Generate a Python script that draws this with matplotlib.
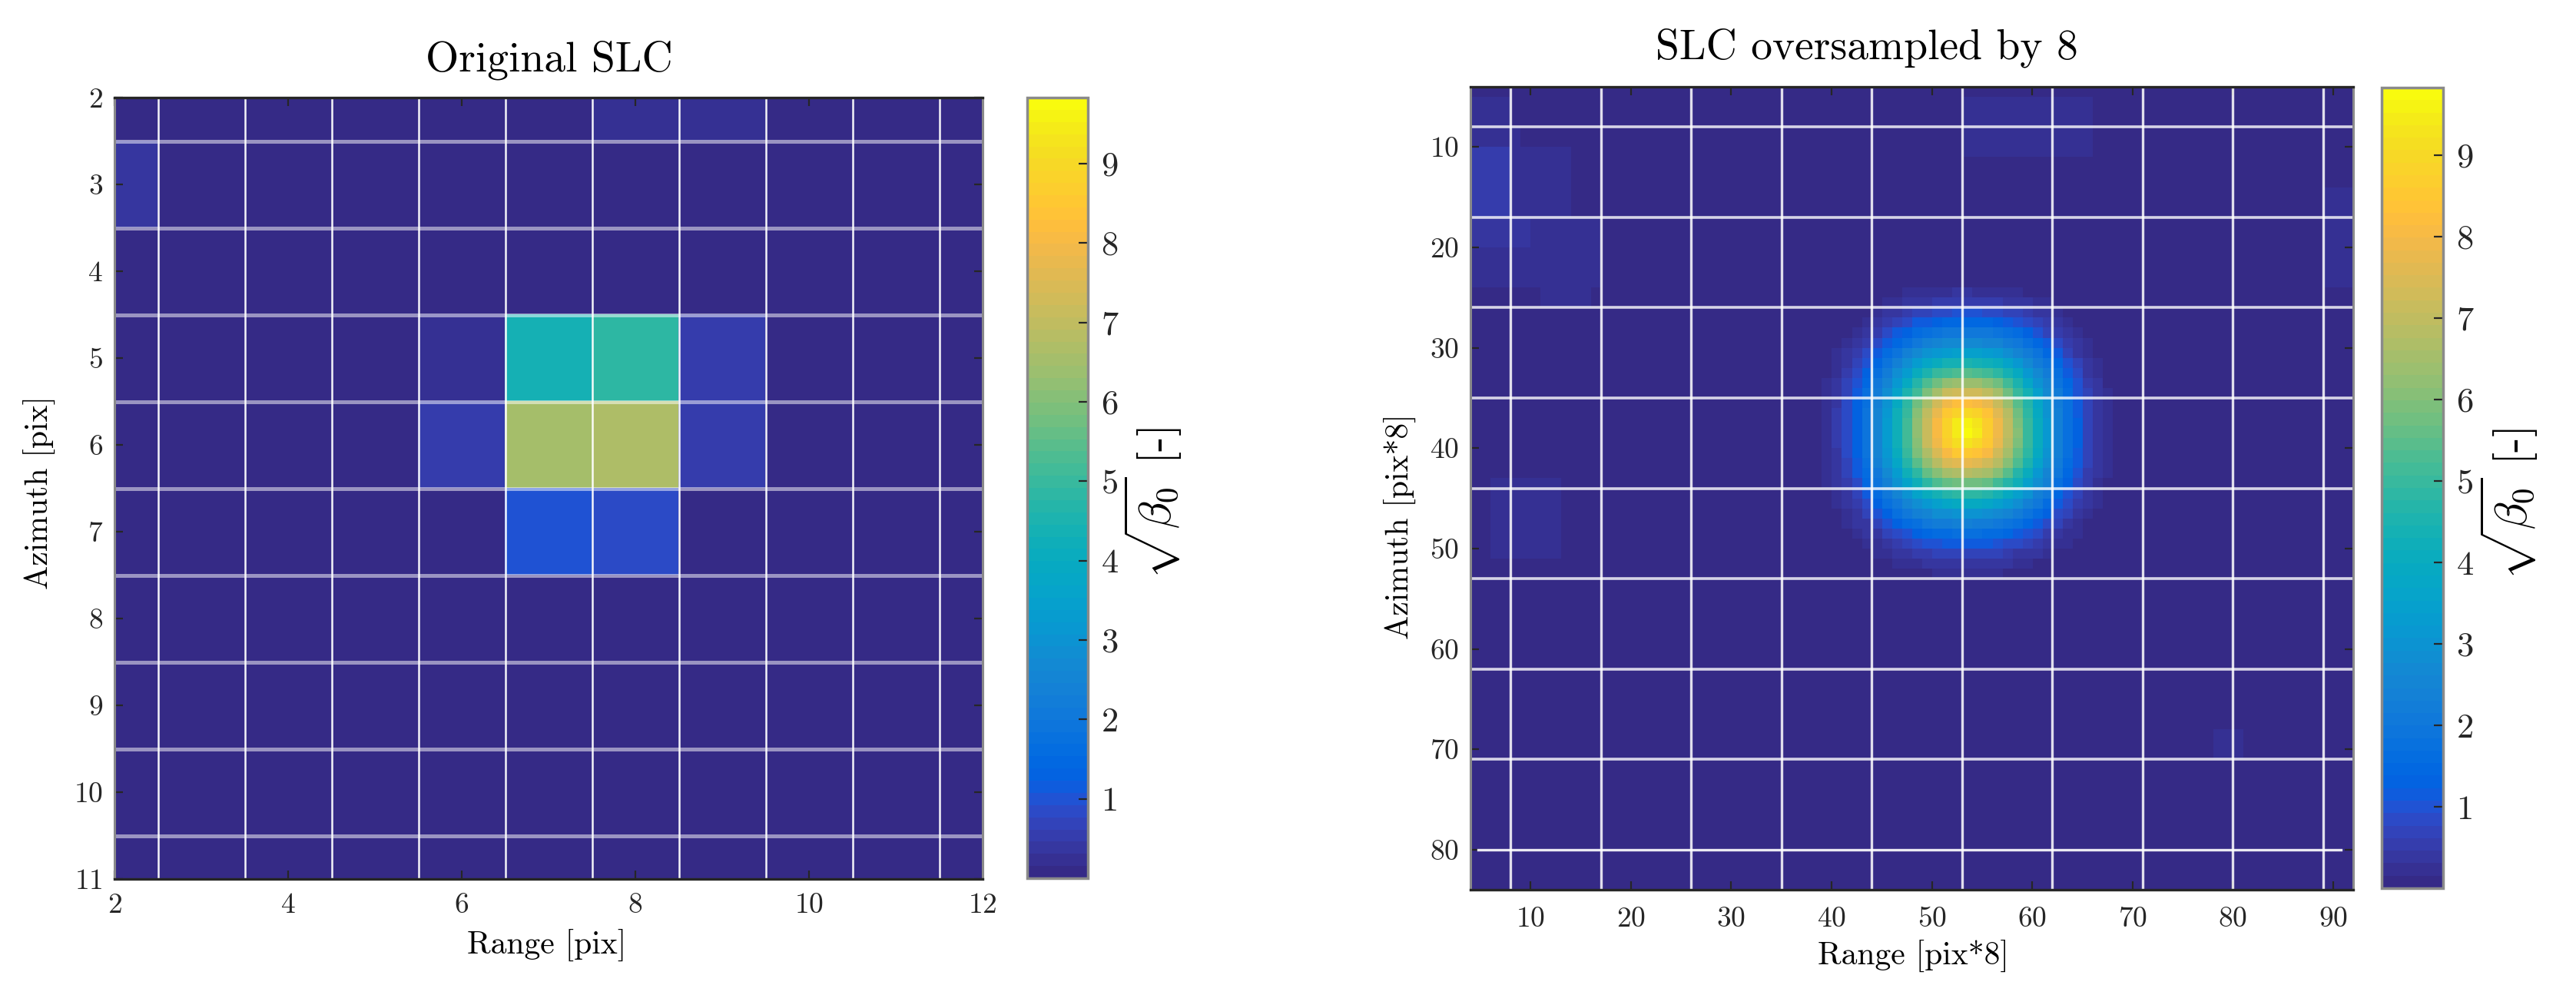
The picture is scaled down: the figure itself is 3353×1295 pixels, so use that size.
import numpy as np
import matplotlib
matplotlib.use("Agg")
import matplotlib.pyplot as plt
from matplotlib.colors import ListedColormap, Normalize

# ---------------------------------------------------------------- data
# original SLC amplitude, rows = azimuth 2..11, columns = range 2..12
orig_range = np.arange(2, 13)
orig_azimuth = np.arange(2, 12)
orig_amp = np.array([
    [0.15, 0.05, 0.05, 0.05, 0.05, 0.05, 0.25, 0.25, 0.05, 0.05, 0.05],
    [0.40, 0.05, 0.05, 0.05, 0.05, 0.05, 0.05, 0.05, 0.05, 0.05, 0.05],
    [0.05, 0.05, 0.05, 0.05, 0.05, 0.05, 0.05, 0.05, 0.05, 0.05, 0.05],
    [0.05, 0.05, 0.05, 0.05, 0.20, 4.35, 4.90, 0.55, 0.05, 0.05, 0.05],
    [0.05, 0.05, 0.05, 0.05, 0.55, 6.60, 6.75, 0.55, 0.05, 0.05, 0.05],
    [0.05, 0.05, 0.05, 0.05, 0.05, 1.05, 0.80, 0.05, 0.05, 0.05, 0.05],
    [0.05, 0.05, 0.05, 0.05, 0.05, 0.05, 0.05, 0.05, 0.05, 0.05, 0.05],
    [0.05, 0.05, 0.05, 0.05, 0.05, 0.05, 0.05, 0.05, 0.05, 0.05, 0.05],
    [0.05, 0.05, 0.05, 0.05, 0.05, 0.05, 0.05, 0.05, 0.05, 0.05, 0.05],
    [0.05, 0.05, 0.05, 0.05, 0.05, 0.05, 0.05, 0.05, 0.05, 0.05, 0.05],
])
orig_grid_x = [2.5, 3.5, 4.5, 5.5, 6.5, 7.5, 8.5, 9.5, 10.5, 11.5]
orig_grid_y = [2.5, 3.5, 4.5, 5.5, 6.5, 7.5, 8.5, 9.5, 10.5]
orig_xticks = [2, 4, 6, 8, 10, 12]
orig_yticks = [2, 3, 4, 5, 6, 7, 8, 9, 10, 11]

# oversampled SLC (x8): pixel grid range 4..92, azimuth 4..84
os_range_edges = np.arange(4, 93)
os_azimuth_edges = np.arange(4, 85)
os_background = 0.05
# main lobe: centre and amplitude vs. distance (pixels)
peak_range = 53.4
peak_azimuth = 38.2
lobe_dist = [0, 1, 2, 3, 4, 5, 6, 7, 8, 9, 10, 11, 12, 13, 14, 15]
lobe_amp = [9.8, 9.5, 8.8, 8.0, 7.1, 6.1, 5.1, 4.2, 3.2, 2.5, 1.9, 1.3, 0.8, 0.45, 0.25, 0.08]
lobe_shape_exp = 2.3
# faint side-lobe patches: range from/to, azimuth from/to, amplitude
patch_r0 = [4, 4, 4, 8, 4, 10, 4, 11, 6, 53, 89, 78]
patch_r1 = [8, 9, 8, 14, 10, 17, 17, 16, 13, 66, 92, 81]
patch_a0 = [5, 8, 10.5, 10.5, 17, 17, 20, 23.5, 43, 5, 14, 68]
patch_a1 = [8, 10.5, 17, 17, 20, 20, 23.5, 25.5, 51, 11, 24, 71]
patch_v = [0.2, 0.28, 0.5, 0.28, 0.35, 0.25, 0.22, 0.18, 0.22, 0.16, 0.28, 0.18]
os_grid_x = [8, 17, 26, 35, 44, 53, 62, 71, 80, 89]
os_grid_y = [8, 17, 26, 35, 44, 53, 62, 71, 80]
os_xticks = [10, 20, 30, 40, 50, 60, 70, 80, 90]
os_yticks = [10, 20, 30, 40, 50, 60, 70, 80]

cbar_ticks = [1, 2, 3, 4, 5, 6, 7, 8, 9]
clim = (0.0, 9.83)

# ------------------------------------------------------------- colormap
PARULA = [
    [0.2081, 0.1663, 0.5292], [0.2116, 0.1898, 0.5777], [0.2123, 0.2138, 0.6270],
    [0.2081, 0.2386, 0.6771], [0.1959, 0.2645, 0.7279], [0.1707, 0.2919, 0.7792],
    [0.1253, 0.3242, 0.8303], [0.0591, 0.3598, 0.8683], [0.0117, 0.3875, 0.8820],
    [0.0060, 0.4086, 0.8828], [0.0165, 0.4266, 0.8786], [0.0329, 0.4430, 0.8720],
    [0.0498, 0.4586, 0.8641], [0.0629, 0.4737, 0.8554], [0.0723, 0.4887, 0.8467],
    [0.0779, 0.5040, 0.8384], [0.0793, 0.5200, 0.8312], [0.0749, 0.5375, 0.8263],
    [0.0641, 0.5570, 0.8240], [0.0488, 0.5772, 0.8228], [0.0343, 0.5966, 0.8199],
    [0.0265, 0.6137, 0.8135], [0.0239, 0.6287, 0.8038], [0.0231, 0.6418, 0.7913],
    [0.0228, 0.6535, 0.7768], [0.0267, 0.6642, 0.7607], [0.0384, 0.6743, 0.7436],
    [0.0590, 0.6838, 0.7254], [0.0843, 0.6928, 0.7062], [0.1133, 0.7015, 0.6859],
    [0.1453, 0.7098, 0.6646], [0.1801, 0.7177, 0.6424], [0.2178, 0.7250, 0.6193],
    [0.2586, 0.7317, 0.5954], [0.3022, 0.7376, 0.5712], [0.3482, 0.7424, 0.5473],
    [0.3953, 0.7459, 0.5244], [0.4420, 0.7481, 0.5033], [0.4871, 0.7491, 0.4840],
    [0.5300, 0.7491, 0.4661], [0.5709, 0.7485, 0.4494], [0.6099, 0.7473, 0.4337],
    [0.6473, 0.7456, 0.4188], [0.6834, 0.7435, 0.4044], [0.7184, 0.7411, 0.3905],
    [0.7525, 0.7384, 0.3768], [0.7858, 0.7356, 0.3633], [0.8185, 0.7327, 0.3498],
    [0.8507, 0.7299, 0.3360], [0.8824, 0.7274, 0.3217], [0.9139, 0.7258, 0.3063],
    [0.9450, 0.7261, 0.2886], [0.9739, 0.7314, 0.2666], [0.9938, 0.7455, 0.2403],
    [0.9990, 0.7653, 0.2164], [0.9955, 0.7861, 0.1967], [0.9880, 0.8066, 0.1794],
    [0.9789, 0.8271, 0.1633], [0.9697, 0.8481, 0.1475], [0.9626, 0.8705, 0.1309],
    [0.9589, 0.8949, 0.1132], [0.9598, 0.9218, 0.0948], [0.9661, 0.9514, 0.0755],
    [0.9763, 0.9831, 0.0538]]
cmap = ListedColormap(PARULA)
norm = Normalize(*clim)

# --------------------------------------------------- oversampled image
rc = 0.5 * (os_range_edges[:-1] + os_range_edges[1:])
ac = 0.5 * (os_azimuth_edges[:-1] + os_azimuth_edges[1:])
RR, AA = np.meshgrid(rc, ac)
dist = (np.abs(RR - peak_range) ** lobe_shape_exp
        + np.abs(AA - peak_azimuth) ** lobe_shape_exp) ** (1.0 / lobe_shape_exp)
os_amp = np.interp(dist, lobe_dist, lobe_amp, right=0.0)
os_amp = np.maximum(os_amp, os_background)
for r0, r1, a0, a1, v in zip(patch_r0, patch_r1, patch_a0, patch_a1, patch_v):
    m = (RR >= r0) & (RR <= r1) & (AA >= a0) & (AA <= a1)
    os_amp[m] = np.maximum(os_amp[m], v)

# ------------------------------------------------------------- styling
plt.rcParams["font.family"] = "cmr10"
plt.rcParams["mathtext.fontset"] = "cm"
plt.rcParams["axes.unicode_minus"] = False
plt.rcParams["axes.formatter.use_mathtext"] = True

W, H = 3353, 1295
fig = plt.figure(figsize=(W / 100, H / 100), dpi=100)


def frac(x0, y0, x1, y1):
    return [x0 / W, 1 - y1 / H, (x1 - x0) / W, (y1 - y0) / H]


def style_axes(ax, xpad, ypad):
    ax.tick_params(direction="in", length=8, width=1.6, top=True, right=True,
                   labelsize=27, colors="#262626")
    ax.tick_params(axis="x", pad=xpad)
    ax.tick_params(axis="y", pad=ypad)
    for s in ("top", "bottom"):
        ax.spines[s].set_color("#262626")
        ax.spines[s].set_linewidth(2.4)
    for s in ("left", "right"):
        ax.spines[s].set_color("#8a8a8a")
        ax.spines[s].set_linewidth(2.2)


def style_cbar(cb):
    cb.set_ticks(cbar_ticks)
    cb.ax.tick_params(direction="in", length=9, width=1.6, labelsize=32,
                      pad=12, colors="#262626")
    cb.outline.set_edgecolor("#8a8a8a")
    cb.outline.set_linewidth(2.5)


# ----- left: original SLC
axL = fig.add_axes(frac(149, 127, 1279, 1144))
imL = axL.imshow(orig_amp, cmap=cmap, norm=norm, interpolation="nearest",
                 aspect="auto",
                 extent=[orig_range[0] - 0.5, orig_range[-1] + 0.5,
                         orig_azimuth[-1] + 0.5, orig_azimuth[0] - 0.5])
axL.set_xlim(2, 12)
axL.set_ylim(11, 2)
for y in orig_grid_y:
    axL.axhline(y, color="white", alpha=0.5, lw=3.6)
for x in orig_grid_x:
    axL.axvline(x, color="white", alpha=0.95, lw=1.8)
axL.set_xticks(orig_xticks)
axL.set_yticks(orig_yticks)
style_axes(axL, 13, 11)

caxL = fig.add_axes(frac(1337, 127, 1416, 1143))
style_cbar(fig.colorbar(imL, cax=caxL))

fig.text(715 / W, 1 - 92 / H, "Original SLC", ha="center", va="baseline", fontsize=40)
fig.text(712 / W, 1 - 1241 / H, "Range [pix]", ha="center", va="baseline", fontsize=30)
fig.text(51 / W, 1 - 641 / H, "Azimuth [pix]", ha="center", va="center",
         rotation=90, fontsize=30)
fig.text(1501 / W, 1 - 655 / H, r"$\sqrt{\beta_0}$ [-]", ha="center", va="center",
         rotation=90, fontsize=42)

# ----- right: oversampled SLC
axR = fig.add_axes(frac(1914, 113, 3063, 1158))
imR = axR.imshow(os_amp, cmap=cmap, norm=norm, interpolation="nearest",
                 aspect="auto",
                 extent=[os_range_edges[0], os_range_edges[-1],
                         os_azimuth_edges[-1], os_azimuth_edges[0]])
axR.set_xlim(os_range_edges[0], os_range_edges[-1])
axR.set_ylim(os_azimuth_edges[-1], os_azimuth_edges[0])
for y in os_grid_y:
    if y == os_grid_y[-1]:
        axR.plot([4.8, 90.8], [y, y], color="white", alpha=0.9, lw=2.4)
    else:
        axR.axhline(y, color="white", alpha=0.8, lw=2.6)
for x in os_grid_x:
    axR.axvline(x, color="white", alpha=0.85, lw=2.4)
axR.set_xticks(os_xticks)
axR.set_yticks(os_yticks)
style_axes(axR, 16, 11)

caxR = fig.add_axes(frac(3100, 114, 3180, 1156))
style_cbar(fig.colorbar(imR, cax=caxR))

fig.text(2430 / W, 1 - 77 / H, "SLC oversampled by 8", ha="center", va="baseline",
         fontsize=40)
fig.text(2490 / W, 1 - 1255 / H, "Range [pix*8]", ha="center", va="baseline", fontsize=30)
fig.text(1822 / W, 1 - 685 / H, "Azimuth [pix*8]", ha="center", va="center",
         rotation=90, fontsize=30)
fig.text(3266 / W, 1 - 656 / H, r"$\sqrt{\beta_0}$ [-]", ha="center", va="center",
         rotation=90, fontsize=42)

fig.savefig("out.png", dpi=100, facecolor="white")
